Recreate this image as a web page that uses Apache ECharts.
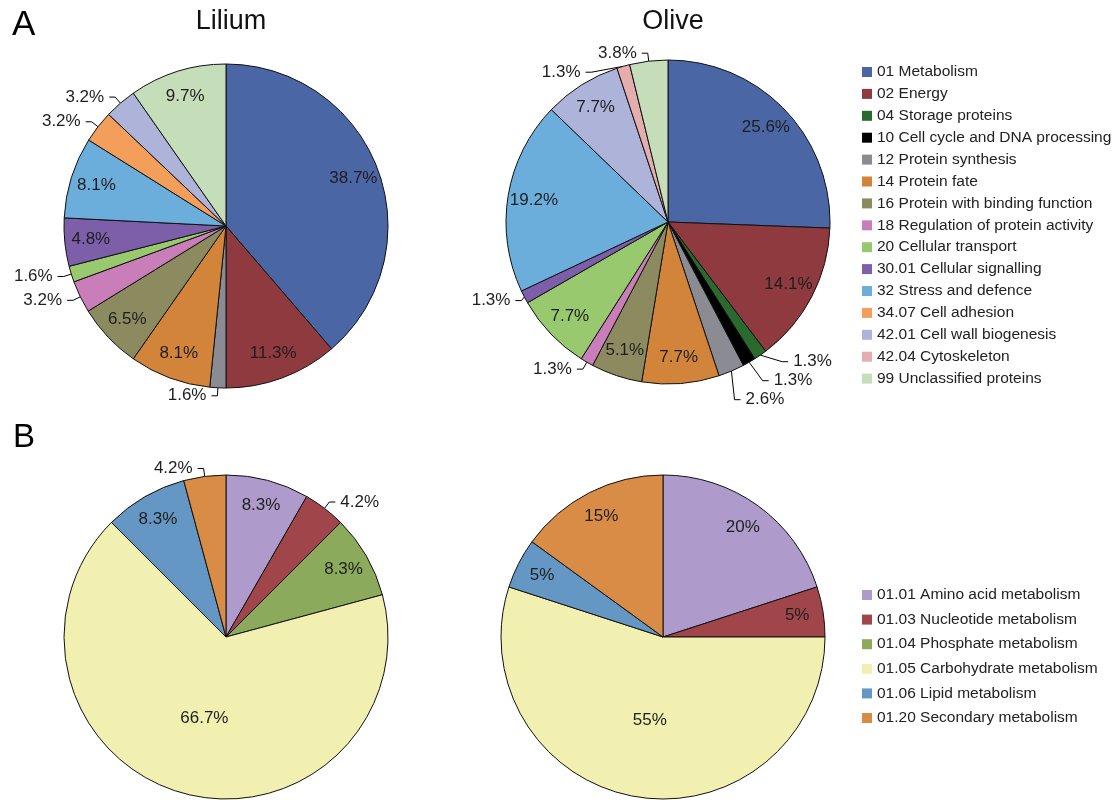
<!DOCTYPE html>
<html><head><meta charset="utf-8">
<script src="https://cdn.jsdelivr.net/npm/echarts@6/dist/echarts.min.js"></script>
<style>html,body{margin:0;padding:0;background:#fff}#c{width:1115px;height:800px}</style>
</head><body><div id="c"></div>
<script>
// ---- Data ----
const categoriesA = ['01 Metabolism','02 Energy','04 Storage proteins','10 Cell cycle and DNA processing','12 Protein synthesis','14 Protein fate','16 Protein with binding function','18 Regulation of protein activity','20 Cellular transport','30.01 Cellular signalling','32 Stress and defence','34.07 Cell adhesion','42.01 Cell wall biogenesis','42.04 Cytoskeleton','99 Unclassified proteins'];
const liliumA = [38.7, 11.3, 0, 0, 1.6, 8.1, 6.5, 3.2, 1.6, 4.8, 8.1, 3.2, 3.2, 0, 9.7];
const oliveA  = [25.6, 14.1, 1.3, 1.3, 2.6, 7.7, 5.1, 1.3, 7.7, 1.3, 19.2, 0, 7.7, 1.3, 3.8];
const categoriesB = ['01.01 Amino acid metabolism','01.03 Nucleotide metabolism','01.04 Phosphate metabolism','01.05 Carbohydrate metabolism','01.06 Lipid metabolism','01.20 Secondary metabolism'];
const liliumB = [8.3, 4.2, 8.3, 66.7, 8.3, 4.2];
const oliveB  = [20, 5, 0, 55, 5, 15];
const colorsA = ['#4A66A5','#8E3A3F','#2B6A2E','#000000','#8A8B93','#D2843A','#8C8A5F','#C97DB9','#98C96F','#7D5EA8','#6CAEDB','#F39E5B','#AEB3DA','#E3AEAD','#C6DDB9'];
const colorsB = ['#AE9BCB','#A0464A','#8BAA5B','#F2F0B0','#6497C3','#D98C45'];
const panelTitles = ['A', 'Lilium', 'Olive', 'B'];

// ---- Layout / style ----
const FONT = "'Liberation Sans', Arial, sans-serif";
const R = 162;
const LABEL_R = 0.82;
const SMALL = 4.5, BIG = 50;

function items(cats, vals, cols) {
  return cats.map((c, i) => ({ name: c, value: vals[i], color: cols[i] })).filter(d => d.value > 0);
}
const labelText = { color: '#1e1e1e', fontSize: 17, fontFamily: FONT };

function mainSeries(cats, vals, cols, center) {
  const data = items(cats, vals, cols).map(d => {
    const it = { name: d.name, value: d.value, itemStyle: { color: d.color } };
    if (d.value < SMALL) { it.label = Object.assign({ show: true, position: 'outside' }, labelText); it.labelLine = { show: true }; }
    else if (d.value > BIG) { it.label = Object.assign({ show: true, position: 'inside' }, labelText); }
    return it;
  });
  return {
    type: 'pie', center, radius: R, startAngle: 90, clockwise: true, silent: true,
    avoidLabelOverlap: true, animation: false,
    label: Object.assign({ show: false, formatter: p => p.value + '%' }, labelText),
    labelLine: { show: false, length: 8, length2: 6, lineStyle: { color: '#000', width: 1 } },
    itemStyle: { borderColor: '#111', borderWidth: 1 },
    emphasis: { disabled: true },
    data
  };
}
function labelSeries(cats, vals, cols, center) {
  const data = items(cats, vals, cols).map(d => ({
    name: d.name, value: d.value,
    label: Object.assign({ show: d.value >= SMALL && d.value <= BIG }, labelText)
  }));
  return {
    type: 'pie', center, radius: R * LABEL_R * 2, startAngle: 90, clockwise: true, silent: true,
    avoidLabelOverlap: false, animation: false, legendHoverLink: false,
    itemStyle: { color: 'rgba(0,0,0,0)', borderWidth: 0 },
    label: Object.assign({ position: 'inside', formatter: p => p.value + '%' }, labelText),
    labelLine: { show: false },
    emphasis: { disabled: true },
    data
  };
}

const chart = echarts.init(document.getElementById('c'), null, { renderer: 'canvas' });
const cLA = [226, 226], cOA = [668, 222], cLB = [226, 637], cOB = [663, 637];
const legendCommon = {
  orient: 'vertical', icon: 'rect', itemWidth: 10, itemHeight: 10, padding: 0,
  itemStyle: { borderWidth: 0 }, selectedMode: false,
  textStyle: { color: '#222', fontSize: 15.5, fontFamily: FONT }
};
chart.setOption({
  backgroundColor: '#fff',
  title: [
    { text: panelTitles[0], left: 12, top: 8, padding: 0, textStyle: { fontSize: 35, fontWeight: 'normal', color: '#000', fontFamily: FONT } },
    { text: panelTitles[1], left: 231, textAlign: 'center', top: 8, padding: 0, textStyle: { fontSize: 27, fontWeight: 'normal', color: '#111', fontFamily: FONT } },
    { text: panelTitles[2], left: 673, textAlign: 'center', top: 8, padding: 0, textStyle: { fontSize: 27, fontWeight: 'normal', color: '#111', fontFamily: FONT } },
    { text: panelTitles[3], left: 13, top: 421, padding: 0, textStyle: { fontSize: 33, fontWeight: 'normal', color: '#000', fontFamily: FONT } }
  ],
  legend: [
    Object.assign({}, legendCommon, { data: categoriesA, left: 862, top: 64, itemGap: 5.9 }),
    Object.assign({}, legendCommon, { data: categoriesB, left: 862, top: 587, itemGap: 8.6 })
  ],
  series: [
    mainSeries(categoriesA, liliumA, colorsA, cLA),
    mainSeries(categoriesA, oliveA, colorsA, cOA),
    mainSeries(categoriesB, liliumB, colorsB, cLB),
    mainSeries(categoriesB, oliveB, colorsB, cOB),
    labelSeries(categoriesA, liliumA, colorsA, cLA),
    labelSeries(categoriesA, oliveA, colorsA, cOA),
    labelSeries(categoriesB, liliumB, colorsB, cLB),
    labelSeries(categoriesB, oliveB, colorsB, cOB)
  ]
});
</script></body></html>
